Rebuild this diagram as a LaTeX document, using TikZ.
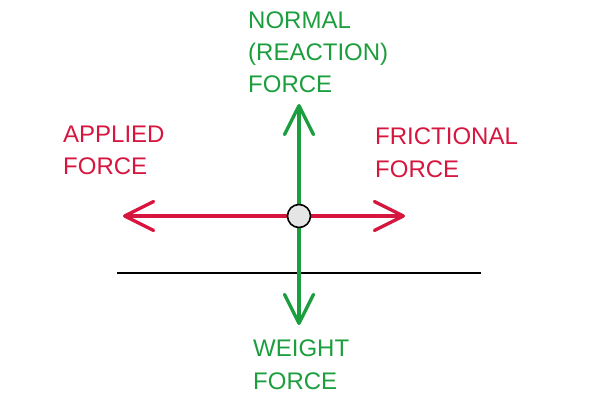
\documentclass[tikz,border=0pt]{standalone}
\usepackage{fontspec}
\setmainfont{Liberation Sans}
\usetikzlibrary{arrows.meta}
\definecolor{fred}{HTML}{D7163F}
\definecolor{fgreen}{HTML}{1C9E3E}
\begin{document}
\begin{tikzpicture}[x=1pt,y=-1pt,
  lbl/.style={anchor=base west,inner sep=0pt,align=left,font=\fontsize{24}{32.5}\selectfont},
  redlbl/.style={lbl,text=fred},
  greenlbl/.style={lbl,text=fgreen},
  force/.style={line width=3.3pt,line cap=round,-{Straight Barb[length=29pt,width=29pt,round]}},
  ground/.style={line width=2.2pt,black},
  body/.style={circle,draw=black,line width=1.6pt,fill=black!10,minimum size=23pt,inner sep=0pt}]
\useasboundingbox (0,0) rectangle (598,404);
\coordinate (c) at (299,216);
\coordinate (gl) at (117,273);
\coordinate (gr) at (481,273);
\coordinate (lt) at (123,216);
\coordinate (rt) at (405,216);
\coordinate (tt) at (299,104);
\coordinate (bt) at (299,325);
\draw[ground] (gl) -- (gr);
\draw[force,fred] (c) -- (lt);
\draw[force,fred] (c) -- (rt);
\draw[force,fgreen] (c) -- (tt);
\draw[force,fgreen] (c) -- (bt);
\node[body] (ball) at (c) {};
\node[greenlbl] (normal) at (248,93) {NORMAL\\(REACTION)\\FORCE};
\node[redlbl] (applied) at (63,175) {APPLIED\\FORCE};
\node[redlbl] (friction) at (375,177) {FRICTIONAL\\FORCE};
\node[greenlbl] (weight) at (253,389) {WEIGHT\\FORCE};
\end{tikzpicture}
\end{document}
